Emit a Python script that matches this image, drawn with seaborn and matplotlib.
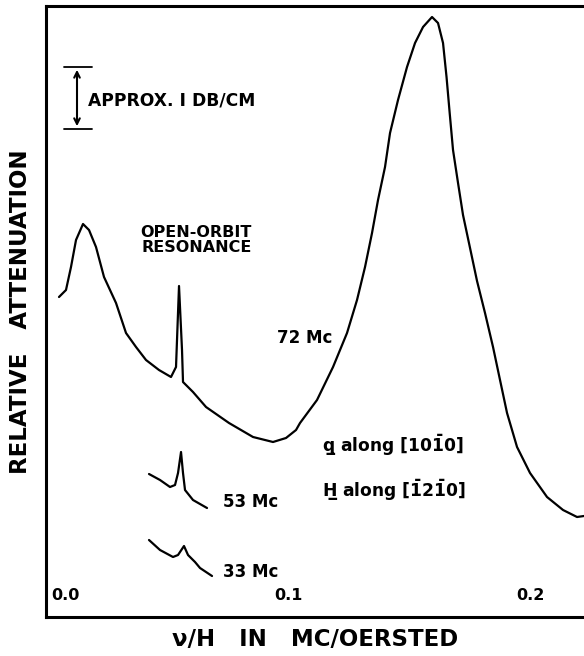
import numpy as np
import pandas as pd
import matplotlib
matplotlib.use("Agg")
import matplotlib.pyplot as plt
import seaborn as sns

# traces: x in MC/OERSTED, y in arbitrary attenuation units
x_72 = [0.00537, 0.00826, 0.01033, 0.01240, 0.01529, 0.01777, 0.02066, 0.02397,
        0.02893, 0.03306, 0.03719, 0.04132, 0.04669, 0.05165, 0.05372, 0.05496,
        0.05620, 0.05661, 0.06074, 0.06612, 0.07562, 0.08554, 0.09380, 0.09917,
        0.10331, 0.10496, 0.11198, 0.11860, 0.12438, 0.12851, 0.13182, 0.13471,
        0.13719, 0.14008, 0.14215, 0.14545, 0.14917, 0.15248, 0.15579, 0.15950,
        0.16198, 0.16405, 0.16550, 0.16680, 0.16818, 0.17025, 0.17231, 0.17521,
        0.17810, 0.18140, 0.18471, 0.18760, 0.19050, 0.19463, 0.20000, 0.20702,
        0.21364, 0.21942, 0.22231]
y_72 = [3.20, 3.27, 3.50, 3.77, 3.93, 3.87, 3.70, 3.40,
        3.14, 2.84, 2.70, 2.57, 2.47, 2.40, 2.50, 3.31,
        2.67, 2.35, 2.25, 2.10, 1.94, 1.80, 1.75, 1.79,
        1.87, 1.94, 2.17, 2.50, 2.84, 3.17, 3.50, 3.84,
        4.17, 4.50, 4.84, 5.17, 5.50, 5.74, 5.90, 6.00,
        5.94, 5.74, 5.40, 5.04, 4.67, 4.34, 4.02, 3.69,
        3.36, 3.04, 2.70, 2.37, 2.04, 1.70, 1.44, 1.20,
        1.07, 1.00, 1.01]

x_53 = [0.04256, 0.04711, 0.05124, 0.05331, 0.05455, 0.05579, 0.05661, 0.05744,
        0.06074, 0.06653]
y_53 = [1.43, 1.37, 1.30, 1.32, 1.44, 1.65, 1.44, 1.27, 1.17, 1.09]

x_33 = [0.04256, 0.04711, 0.05248, 0.05455, 0.05702, 0.05868, 0.06157, 0.06364,
        0.06860]
y_33 = [0.77, 0.67, 0.60, 0.62, 0.71, 0.62, 0.55, 0.49, 0.41]

x_ticks = [0.0, 0.1, 0.2]
x_tick_labels = ["0.0", "0.1", "0.2"]

sns.set_style("white")
plt.rcParams['font.family'] = ['DejaVu Sans']
plt.rcParams['font.weight'] = 'bold'
plt.rcParams['axes.labelweight'] = 'bold'
plt.rcParams['text.color'] = 'black'
plt.rcParams['axes.labelcolor'] = 'black'

fig = plt.figure(figsize=(5.84, 6.56), dpi=100)
ax = fig.add_axes([46 / 584, 39 / 656, 1 - 46 / 584, 611 / 656])

for xs, ys in [(x_72, y_72), (x_53, y_53), (x_33, y_33)]:
    df = pd.DataFrame({"x": xs, "y": ys})
    sns.lineplot(data=df, x="x", y="y", ax=ax, color="black", lw=1.6,
                 sort=False, estimator=None)

ax.set_xlim(0, 0.2223)
ax.set_ylim(0, 6.11)
ax.set_yticks([])
ax.set_xticks(x_ticks[1:])
ax.tick_params(axis="x", direction="in", length=9, width=1.3,
               color="black", labelbottom=False)
for s in ["left", "top", "bottom"]:
    ax.spines[s].set_linewidth(2.2)
    ax.spines[s].set_color("black")
ax.spines["right"].set_visible(False)

# tick labels sit inside the frame, just above the axis
for t, lab in zip(x_ticks, x_tick_labels):
    if t == 0.0:
        ax.text(0.002, 0.14, lab, ha="left", va="bottom", fontsize=11.5)
    else:
        ax.text(t, 0.14, lab, ha="center", va="bottom", fontsize=11.5)

ax.set_xlabel("\u03bd/H   IN   MC/OERSTED", fontsize=16.5, labelpad=8)
ax.set_ylabel("RELATIVE   ATTENUATION", fontsize=16.5, labelpad=10)

# scale bar
ax.annotate("", xy=(0.01281, 5.50), xytext=(0.01281, 4.88),
            arrowprops=dict(arrowstyle="<->", color="black", lw=1.5))
ax.plot([0.00744, 0.01901], [5.50, 5.50], color="black", lw=1.3)
ax.plot([0.00744, 0.01901], [4.88, 4.88], color="black", lw=1.3)
ax.text(0.0175, 5.17, "APPROX. I DB/CM", ha="left", va="center", fontsize=12.3)

ax.text(0.0621, 3.77, "OPEN-ORBIT\nRESONANCE", ha="center", va="center",
        fontsize=11.5, linespacing=1.0)
ax.text(0.0955, 2.79, "72 Mc", ha="left", va="center", fontsize=12)
ax.text(0.0731, 1.15, "53 Mc", ha="left", va="center", fontsize=12)
ax.text(0.0731, 0.45, "33 Mc", ha="left", va="center", fontsize=12)
ax.text(0.1140, 1.72, "q\u0332 along [10$\\bar{1}$0]", ha="left", va="center",
        fontsize=12.3)
ax.text(0.1140, 1.27, "H\u0332 along [$\\bar{1}$2$\\bar{1}$0]", ha="left",
        va="center", fontsize=12.3)

fig.savefig("out.png", dpi=100)
